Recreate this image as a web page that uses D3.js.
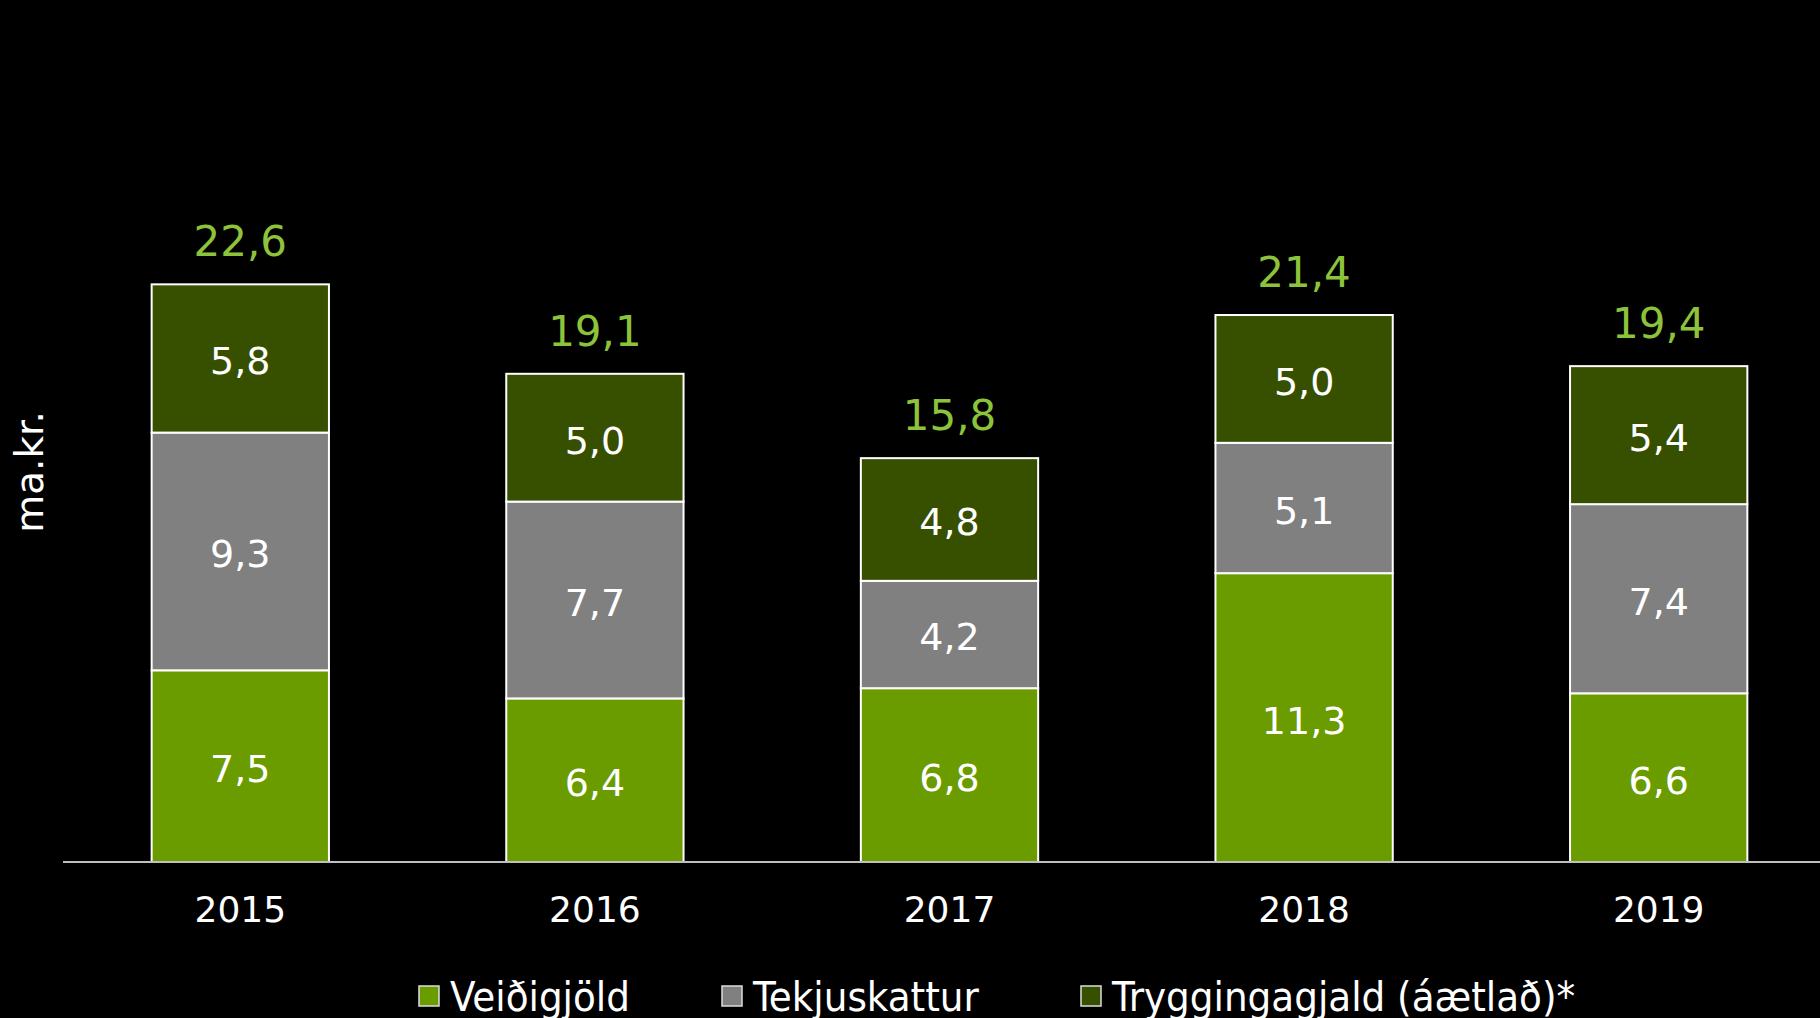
<!DOCTYPE html>
<html>
<head>
<meta charset="utf-8">
<script src="https://cdn.jsdelivr.net/npm/d3@7"></script>
<style>
  html, body { margin: 0; padding: 0; background: #000; overflow: hidden; }
  text { font-family: "DejaVu Sans", Verdana, sans-serif; }
</style>
</head>
<body>
<div id="chart"></div>
<script>
// data (ma.kr.)
var years = ["2015", "2016", "2017", "2018", "2019"];
var seriesNames = ["Veiðigjöld", "Tekjuskattur", "Tryggingagjald (áætlað)*"];
var veidigjold = [7.5, 6.4, 6.8, 11.3, 6.6];
var tekjuskattur = [9.3, 7.7, 4.2, 5.1, 7.4];
var tryggingagjald = [5.8, 5.0, 4.8, 5.0, 5.4];
var totals = [22.6, 19.1, 15.8, 21.4, 19.4];

var colors = ["#6a9c00", "#808080", "#375000"];

var svgWidth = 1820;
var svgHeight = 1018;
var baseY = 862;

var svg = d3.select("#chart").append("svg")
  .attr("width", svgWidth)
  .attr("height", svgHeight);

// build table for d3.stack
var table = years.map(function(y, i) {
  return { year: y, a: veidigjold[i], b: tekjuskattur[i], c: tryggingagjald[i], total: totals[i] };
});
var keys = ["a", "b", "c"];
var stacked = d3.stack().keys(keys)(table);

var x = d3.scaleBand()
  .domain(years)
  .range([63, 1836])
  .paddingInner(0.5)
  .paddingOuter(0.25);

var y = d3.scaleLinear()
  .domain([0, 30])
  .range([baseY, baseY - 30 * 25.56]);

var fmt = function(v) { return d3.format(".1f")(v).replace(".", ","); };

// bars
var layers = svg.selectAll("g.layer")
  .data(stacked)
  .enter().append("g")
  .attr("class", "layer")
  .attr("fill", (d, i) => colors[i]);

layers.selectAll("rect")
  .data(d => d)
  .enter().append("rect")
  .attr("x", d => x(d.data.year))
  .attr("y", d => y(d[1]))
  .attr("width", x.bandwidth())
  .attr("height", d => y(d[0]) - y(d[1]))
  .attr("stroke", "#fff")
  .attr("stroke-width", 2);

// segment labels
layers.selectAll("text")
  .data(d => d)
  .enter().append("text")
  .attr("x", d => x(d.data.year) + x.bandwidth() / 2)
  .attr("y", d => (y(d[0]) + y(d[1])) / 2)
  .attr("dy", "0.42em")
  .attr("text-anchor", "middle")
  .attr("fill", "#fff")
  .attr("font-size", 38)
  .text(d => fmt(d[1] - d[0]));

// totals above the bars
svg.selectAll("text.total")
  .data(table)
  .enter().append("text")
  .attr("class", "total")
  .attr("x", d => x(d.year) + x.bandwidth() / 2)
  .attr("y", d => y(d.total) - 28)
  .attr("text-anchor", "middle")
  .attr("fill", "#8dc33a")
  .attr("font-size", 42)
  .text(d => fmt(d.total));

// x axis
var xAxis = svg.append("g")
  .attr("transform", `translate(0, ${baseY})`)
  .call(d3.axisBottom(x).tickSize(0).tickPadding(0));
xAxis.select(".domain").remove();
xAxis.append("line")
  .attr("x1", 63).attr("x2", svgWidth)
  .attr("stroke", "#bfbfbf").attr("stroke-width", 2);
xAxis.selectAll(".tick text")
  .attr("y", 60)
  .attr("dy", 0)
  .attr("fill", "#fff")
  .attr("font-size", 36)
  .attr("font-family", "DejaVu Sans, Verdana, sans-serif");

// y axis title
svg.append("text")
  .attr("transform", "translate(43, 472) rotate(-90)")
  .attr("text-anchor", "middle")
  .attr("fill", "#fff")
  .attr("font-size", 39)
  .text("ma.kr.");

// legend
var legendX = [419, 722, 1081];
var legend = svg.selectAll("g.legend")
  .data(seriesNames)
  .enter().append("g")
  .attr("class", "legend")
  .attr("transform", (d, i) => `translate(${legendX[i]}, 0)`);

legend.append("rect")
  .attr("x", 0).attr("y", 986)
  .attr("width", 20).attr("height", 20)
  .attr("fill", (d, i) => colors[i])
  .attr("stroke", "#ddd")
  .attr("stroke-width", 1.5);

legend.append("text")
  .attr("x", 31).attr("y", 1011)
  .attr("fill", "#fff")
  .attr("font-size", 41.5)
  .style("font-family", "'DejaVu Sans Condensed', 'DejaVu Sans', sans-serif")
  .text(d => d);
</script>
</body>
</html>
